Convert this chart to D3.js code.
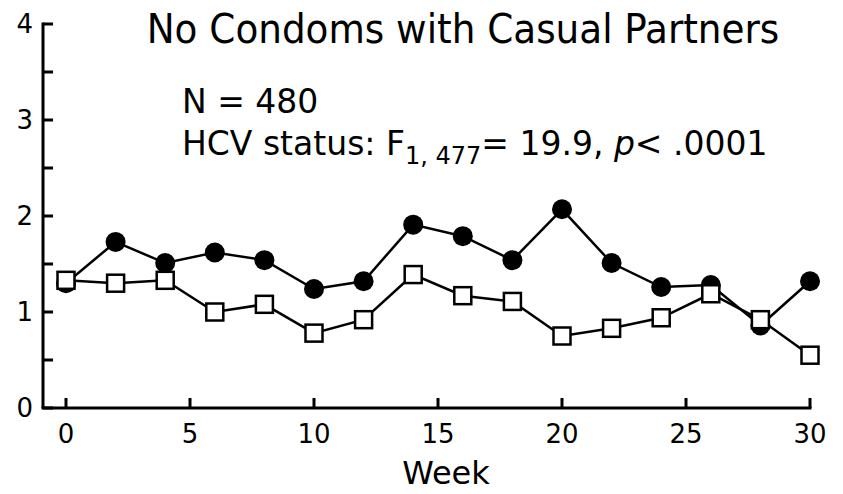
<!DOCTYPE html>
<html>
<head>
<meta charset="utf-8">
<script src="https://cdn.jsdelivr.net/npm/d3@7"></script>
<style>
  body { margin: 0; background: #fff; }
  text { font-family: "DejaVu Sans", sans-serif; fill: #000; }
  .title { font-family: "DejaVu Sans Condensed", "DejaVu Sans", sans-serif; }
</style>
</head>
<body>
<div id="chart"></div>
<script>
// data
var weeks = [0, 2, 4, 6, 8, 10, 12, 14, 16, 18, 20, 22, 24, 26, 28, 30];
var hcvPos = [1.30, 1.73, 1.51, 1.62, 1.54, 1.24, 1.32, 1.91, 1.79, 1.54, 2.07, 1.51, 1.26, 1.28, 0.86, 1.32];
var hcvNeg = [1.33, 1.30, 1.33, 1.00, 1.08, 0.78, 0.92, 1.39, 1.17, 1.11, 0.75, 0.83, 0.94, 1.19, 0.92, 0.55];
var xTicks = [0, 5, 10, 15, 20, 25, 30];
var yTicks = [0, 1, 2, 3, 4];
var yMinor = [0.5, 1.5, 2.5, 3.5];

var W = 843, H = 494;

var svg = d3.select("#chart").append("svg")
    .attr("width", W)
    .attr("height", H);

// week 0 sits at 66, week 30 at 810
var x = d3.scaleLinear().domain([0, 30]).range([66, 810]);
var y = d3.scaleLinear().domain([0, 4]).range([408, 24]);

// y axis line and ticks (ticks point inward)
svg.append("line")
    .attr("x1", 43).attr("x2", 43)
    .attr("y1", y(4) - 1.5).attr("y2", y(0))
    .attr("stroke", "#000").attr("stroke-width", 3);
svg.selectAll(".ytick")
    .data(yTicks.concat(yMinor))
    .enter().append("line")
    .attr("x1", 43).attr("x2", 53)
    .attr("y1", function(d) { return y(d); })
    .attr("y2", function(d) { return y(d); })
    .attr("stroke", "#000").attr("stroke-width", 3);
svg.selectAll(".ylab")
    .data(yTicks)
    .enter().append("text")
    .attr("x", 33)
    .attr("y", function(d) { return y(d); })
    .attr("dy", "0.36em")
    .attr("text-anchor", "end")
    .style("font-size", "26px")
    .text(function(d) { return d; });

// x axis line and ticks
svg.append("line")
    .attr("x1", 41.5).attr("x2", x(30) + 1.5)
    .attr("y1", y(0)).attr("y2", y(0))
    .attr("stroke", "#000").attr("stroke-width", 3);
svg.selectAll(".xtick")
    .data(xTicks)
    .enter().append("line")
    .attr("x1", function(d) { return x(d); })
    .attr("x2", function(d) { return x(d); })
    .attr("y1", y(0)).attr("y2", y(0) - 10)
    .attr("stroke", "#000").attr("stroke-width", 3);
svg.selectAll(".xlab")
    .data(xTicks)
    .enter().append("text")
    .attr("x", function(d) { return x(d); })
    .attr("y", 443)
    .attr("text-anchor", "middle")
    .style("font-size", "26px")
    .text(function(d) { return d; });

svg.append("text")
    .attr("x", 446)
    .attr("y", 484)
    .attr("text-anchor", "middle")
    .style("font-size", "32px")
    .text("Week");

// title and stats
svg.append("text")
    .attr("class", "title")
    .attr("x", 463)
    .attr("y", 43)
    .attr("text-anchor", "middle")
    .style("font-size", "41.5px")
    .text("No Condoms with Casual Partners");

svg.append("text")
    .attr("x", 182)
    .attr("y", 113)
    .style("font-size", "33px")
    .text("N = 480");

var stat = svg.append("text")
    .attr("x", 182)
    .attr("y", 155)
    .style("font-size", "33px");
stat.append("tspan").text("HCV status: F");
stat.append("tspan").attr("dy", 9).style("font-size", "24px").text("1, 477");
stat.append("tspan").attr("dy", -9).text("= 19.9, ");
stat.append("tspan").style("font-style", "italic").text("p");
stat.append("tspan").text("< .0001");

var line = d3.line()
    .x(function(d) { return x(d[0]); })
    .y(function(d) { return y(d[1]); });

var posPts = weeks.map(function(w, i) { return [w, hcvPos[i]]; });
var negPts = weeks.map(function(w, i) { return [w, hcvNeg[i]]; });

// HCV positive: filled circles
svg.append("path")
    .datum(posPts)
    .attr("d", line)
    .attr("fill", "none")
    .attr("stroke", "#000")
    .attr("stroke-width", 2.5);
svg.selectAll(".pos")
    .data(posPts)
    .enter().append("circle")
    .attr("cx", function(d) { return x(d[0]); })
    .attr("cy", function(d) { return y(d[1]); })
    .attr("r", 10)
    .attr("fill", "#000");

// HCV negative: open squares
svg.append("path")
    .datum(negPts)
    .attr("d", line)
    .attr("fill", "none")
    .attr("stroke", "#000")
    .attr("stroke-width", 2.5);
var sq = 17;
svg.selectAll(".neg")
    .data(negPts)
    .enter().append("rect")
    .attr("x", function(d) { return x(d[0]) - sq / 2; })
    .attr("y", function(d) { return y(d[1]) - sq / 2; })
    .attr("width", sq)
    .attr("height", sq)
    .attr("fill", "#fff")
    .attr("stroke", "#000")
    .attr("stroke-width", 2.5);
</script>
</body>
</html>
